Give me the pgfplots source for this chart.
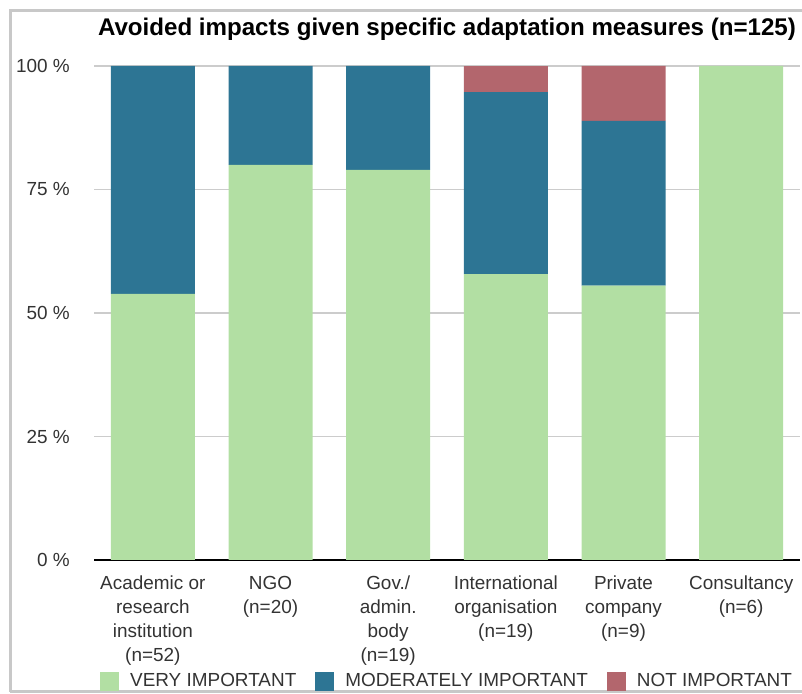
\documentclass[border=0pt]{standalone}
\usepackage{pgfplots}
\pgfplotsset{compat=1.18}
\usepackage{fontspec}
\setmainfont{Liberation Sans}
\definecolor{cgreen}{HTML}{B2DFA3}
\definecolor{cblue}{HTML}{2D7594}
\definecolor{cred}{HTML}{B3666D}
\definecolor{cgrid}{HTML}{CCCCCC}
\definecolor{cframe}{HTML}{C8C8C8}
\begin{document}
\begin{tikzpicture}[x=1bp,y=1bp]
\useasboundingbox (0,0) rectangle (802,694);
\clip (0,0) rectangle (802,694);
\draw[cframe, line width=3bp] (10,2) -- (10,683) -- (815,683);
\draw[cframe, line width=3bp] (10,2) -- (815,2);
\begin{axis}[
  at={(94bp,134bp)}, anchor=south west,
  scale only axis, width=706bp, height=494bp,
  xmin=-0.5, xmax=5.5, ymin=0, ymax=100,
  enlargelimits=false,
  ybar stacked, bar width=84bp,
  axis lines*=left,
  x axis line style={black, line width=1.4bp, -},
  y axis line style={draw=none},
  tick style={draw=none},
  ymajorgrids, grid style={cgrid, line width=1.5bp},
  ytick={0,25,50,75,100},
  yticklabels={{0 \%},{25 \%},{50 \%},{75 \%},{100 \%}},
  yticklabel style={anchor=east, inner sep=0pt, xshift=-24bp, font=\fontsize{19}{23}\selectfont, text=black!80},
  xtick={0,1,2,3,4,5},
  xticklabels={{Academic or\\research\\institution\\(n=52)},{NGO\\(n=20)},{Gov./\\admin.\\body\\(n=19)},{International\\organisation\\(n=19)},{Private\\company\\(n=9)},{Consultancy\\(n=6)}},
  xticklabel style={align=center, anchor=north, inner sep=0pt, yshift=-16bp, font=\fontsize{19}{24}\selectfont, text=black!80},
  title={\bfseries Avoided impacts given specific adaptation measures (n=125)},
  title style={at={(0.5,1)}, anchor=base, yshift=25bp, font=\fontsize{24.2}{28}\selectfont},
  legend columns=3,
  legend style={at={(0.5,0)}, anchor=center, yshift=-121bp, draw=none, fill=none,
    font=\fontsize{19}{23}\selectfont, text=black!80,
    /tikz/every even column/.append style={column sep=17bp}},
  legend image code/.code={\fill[#1] (0bp,-9.5bp) rectangle (19bp,9.5bp); \path (28bp,0bp);},
]
\addplot[fill=cgreen, draw=none] coordinates {(0,53.85) (1,80) (2,78.95) (3,57.89) (4,55.56) (5,100)};
\addplot[fill=cblue, draw=none] coordinates {(0,46.15) (1,20) (2,21.05) (3,36.84) (4,33.33) (5,0)};
\addplot[fill=cred, draw=none] coordinates {(0,0) (1,0) (2,0) (3,5.26) (4,11.11) (5,0)};
\legend{VERY IMPORTANT, MODERATELY IMPORTANT, NOT IMPORTANT}
\end{axis}
\end{tikzpicture}
\end{document}
